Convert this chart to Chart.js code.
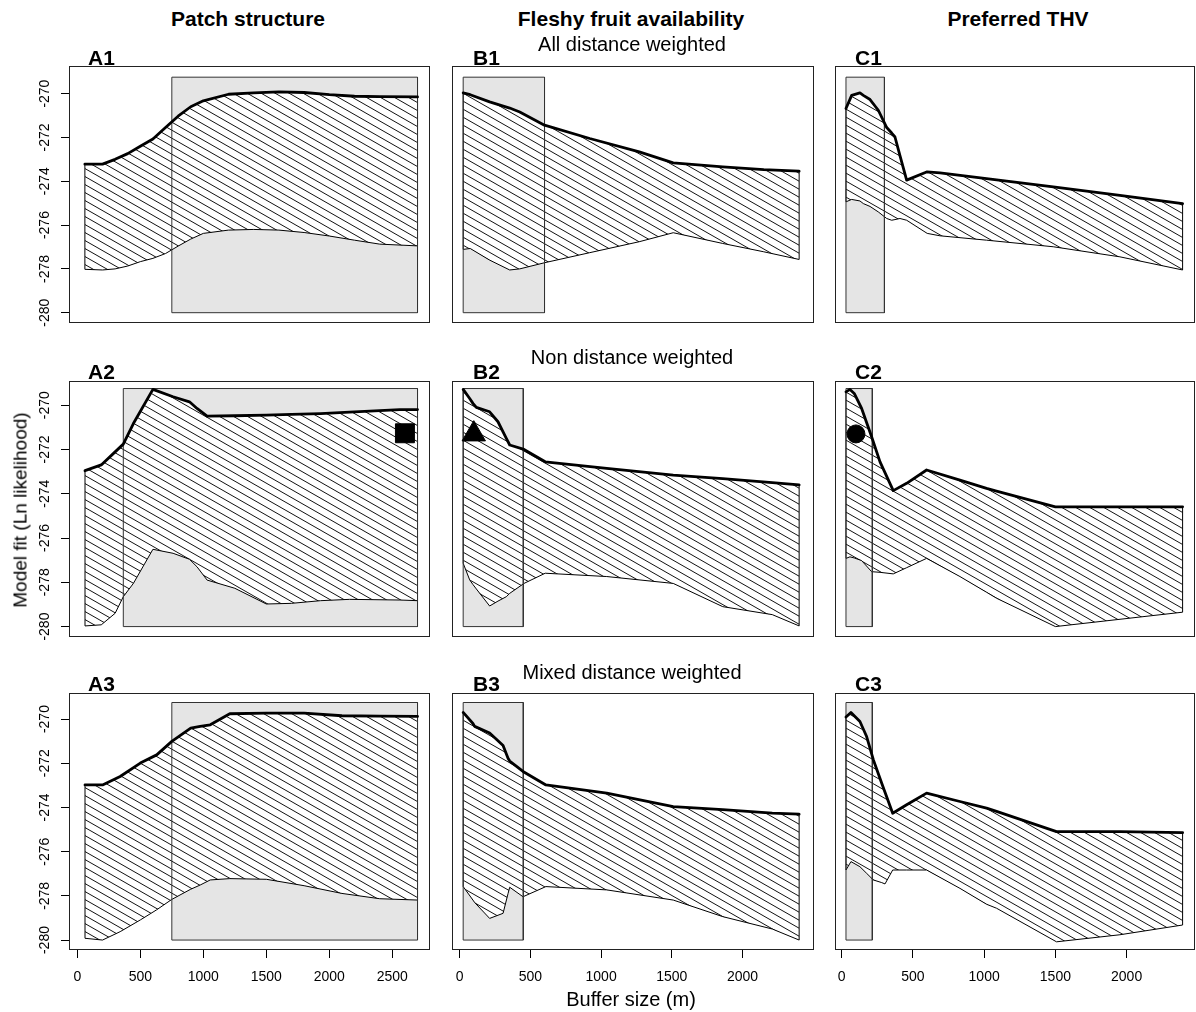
<!DOCTYPE html>
<html><head><meta charset="utf-8">
<script src="https://cdn.jsdelivr.net/npm/chart.js@4.4.1/dist/chart.umd.min.js"></script>
<style>
html,body{margin:0;padding:0;background:#fff;}
body{width:1196px;height:1012px;position:relative;overflow:hidden;font-family:"Liberation Sans",Arial,sans-serif;color:#000;}
canvas{position:absolute;}
.t{position:absolute;transform:translate(-50%,-50%);white-space:nowrap;line-height:1;}
.ct{font-weight:bold;font-size:21px;}
.st{font-size:20px;}
.pl{position:absolute;transform:translateY(-50%);font-weight:bold;font-size:21px;line-height:1;white-space:nowrap;}
.yt{position:absolute;transform:translate(-50%,-50%) rotate(-90deg);font-size:19px;line-height:1;white-space:nowrap;}
</style></head><body>
<script>
// ---------------- DATA ----------------
const xTicksA = [0, 500, 1000, 1500, 2000, 2500];
const xTicksBC = [0, 500, 1000, 1500, 2000];
const yTicks = [-280, -278, -276, -274, -272, -270];
const shadeY = [-280, -269.25];

const A1_x = [60,200,300,400,500,600,700,800,900,1000,1200,1400,1600,1800,2000,2200,2400,2700];
const A1_upper = [-273.22,-273.22,-273.0,-272.74,-272.4,-272.07,-271.55,-271.03,-270.6,-270.33,-270.03,-269.97,-269.92,-269.95,-270.05,-270.12,-270.14,-270.15];
const A1_lower = [-278.02,-278.05,-278.0,-277.87,-277.67,-277.52,-277.3,-276.96,-276.64,-276.38,-276.23,-276.2,-276.23,-276.34,-276.5,-276.69,-276.87,-276.95];
const A1_shade = [750, 2700];

const A2_x = [61,190,300,365,445,600,760,890,950,1030,1250,1500,1700,1930,2160,2560,2700];
const A2_upper = [-272.96,-272.7,-272.11,-271.76,-270.83,-269.29,-269.62,-269.85,-270.15,-270.5,-270.48,-270.45,-270.42,-270.38,-270.32,-270.2,-270.2];
const A2_lower = [-279.97,-279.92,-279.4,-278.65,-278.05,-276.51,-276.69,-276.96,-277.3,-277.9,-278.27,-278.98,-278.95,-278.83,-278.77,-278.8,-278.83];
const A2_shade = [365, 2700];
const A2_marker = [2600, -271.27];

const A3_x = [61,200,340,500,630,750,900,975,1055,1210,1500,1800,2100,2400,2700];
const A3_upper = [-272.98,-272.98,-272.6,-271.99,-271.62,-271.01,-270.41,-270.33,-270.26,-269.76,-269.73,-269.73,-269.85,-269.87,-269.88];
const A3_lower = [-279.92,-280.0,-279.62,-279.09,-278.63,-278.16,-277.7,-277.51,-277.28,-277.22,-277.25,-277.54,-277.89,-278.13,-278.19];
const A3_shade = [750, 2700];

const B1_x = [25,75,212,354,425,600,920,1270,1510,1860,2150,2400];
const B1_upper = [-269.97,-270.05,-270.38,-270.66,-270.84,-271.44,-272.05,-272.66,-273.16,-273.34,-273.47,-273.54];
const B1_lower = [-277.11,-277.07,-277.6,-278.05,-278.0,-277.72,-277.26,-276.76,-276.35,-276.84,-277.22,-277.57];
const B1_shade = [25, 600];

const B2_x = [25,71,94,118,212,271,330,354,455,605,1040,1510,1860,2210,2400];
const B2_upper = [-269.29,-269.7,-269.92,-270.1,-270.3,-270.75,-271.5,-271.8,-272.0,-272.56,-272.86,-273.16,-273.32,-273.5,-273.6];
const B2_lower = [-277.14,-277.89,-278.1,-278.3,-279.07,-278.85,-278.65,-278.5,-278.05,-277.59,-277.74,-278.05,-279.1,-279.46,-279.97];
const B2_shade = [25, 450];
const B2_marker = [100, -271.31];

const B3_x = [25,94,106,212,307,342,354,448,610,1040,1510,1860,2210,2400];
const B3_upper = [-269.7,-270.2,-270.33,-270.63,-271.2,-271.77,-271.9,-272.37,-272.98,-273.35,-273.96,-274.1,-274.26,-274.3];
const B3_lower = [-277.58,-278.19,-278.3,-279.02,-278.79,-277.9,-277.61,-278.04,-277.58,-277.73,-278.19,-278.94,-279.5,-280.0];
const B3_shade = [25, 450];

const C1_x = [30,70,128,152,199,257,316,351,374,409,456,600,690,1017,1485,1953,2393];
const C1_upper = [-270.68,-270.08,-269.97,-270.08,-270.27,-270.76,-271.55,-271.8,-271.98,-272.83,-273.95,-273.57,-273.62,-273.88,-274.26,-274.64,-275.02];
const C1_lower = [-274.94,-274.83,-274.9,-275.02,-275.15,-275.4,-275.7,-275.78,-275.75,-275.7,-275.78,-276.38,-276.49,-276.69,-276.99,-277.45,-278.05];
const C1_shade = [30, 300];

const C2_x = [30,58,88,140,210,269,362,456,596,830,1017,1087,1500,2393];
const C2_upper = [-269.4,-269.29,-269.47,-270.15,-271.43,-272.56,-273.86,-273.53,-272.93,-273.39,-273.76,-273.88,-274.59,-274.59];
const C2_lower = [-276.92,-276.85,-276.9,-277.02,-277.52,-277.55,-277.62,-277.34,-276.92,-277.74,-278.45,-278.72,-280.0,-279.35];
const C2_shade = [30, 215];
const C2_marker = [100, -271.3];

const C3_x = [30,65,128,175,222,281,304,358,456,596,830,1017,1087,1508,1953,2393];
const C3_upper = [-269.91,-269.7,-270.11,-270.79,-271.84,-272.9,-273.31,-274.26,-273.88,-273.35,-273.73,-274.03,-274.18,-275.09,-275.09,-275.14];
const C3_lower = [-276.83,-276.45,-276.68,-276.98,-277.28,-277.4,-277.46,-276.83,-276.83,-276.83,-277.66,-278.38,-278.56,-280.08,-279.76,-279.32];
const C3_shade = [30, 215];

// ---------------- LAYOUT ----------------
const COLS = [
  {boxL:69,  boxR:430,  xMin:-66, xMax:2799, padR:8, ticks:xTicksA},
  {boxL:452, boxR:814,  xMin:-54, xMax:2505, padR:8, ticks:xTicksBC},
  {boxL:835, boxR:1195, xMin:-47, xMax:2480, padR:1, ticks:xTicksBC}
];
const ROWS = [
  {boxT:66,  boxB:323, yMin:-280.47, yMax:-268.74},
  {boxT:381, boxB:637, yMin:-280.47, yMax:-268.91},
  {boxT:693, boxB:950, yMin:-280.45, yMax:-268.82}
];
const panels = [
  {x:A1_x, up:A1_upper, lo:A1_lower, shade:A1_shade, col:0, row:0},
  {x:A2_x, up:A2_upper, lo:A2_lower, shade:A2_shade, col:0, row:1, marker:A2_marker, mStyle:'rect', mR:13.4},
  {x:A3_x, up:A3_upper, lo:A3_lower, shade:A3_shade, col:0, row:2},
  {x:B1_x, up:B1_upper, lo:B1_lower, shade:B1_shade, col:1, row:0},
  {x:B2_x, up:B2_upper, lo:B2_lower, shade:B2_shade, col:1, row:1, marker:B2_marker, mStyle:'triangle', mR:13.5},
  {x:B3_x, up:B3_upper, lo:B3_lower, shade:B3_shade, col:1, row:2},
  {x:C1_x, up:C1_upper, lo:C1_lower, shade:C1_shade, col:2, row:0},
  {x:C2_x, up:C2_upper, lo:C2_lower, shade:C2_shade, col:2, row:1, marker:C2_marker, mStyle:'circle', mR:9},
  {x:C3_x, up:C3_upper, lo:C3_lower, shade:C3_shade, col:2, row:2}
];

const FONT = "'Liberation Sans', Arial, sans-serif";
const PAD_T = 18;

const boxPlugin = {
  id: 'box',
  afterDraw(chart) {
    const a = chart.chartArea, c = chart.ctx;
    c.save();
    c.strokeStyle = '#222';
    c.lineWidth = 1;
    c.strokeRect(Math.round(a.left) + 0.5, Math.round(a.top) + 0.5,
                 Math.round(a.right - a.left) - 1, Math.round(a.bottom - a.top) - 1);
    c.restore();
  }
};

function hatchTile() {
  const W = 14, H = 8;
  const c = document.createElement('canvas');
  c.width = W; c.height = H;
  const g = c.getContext('2d');
  g.fillStyle = '#fff'; g.fillRect(0, 0, W, H);
  g.strokeStyle = '#111'; g.lineWidth = 1;
  for (let k = -1; k <= 1; k++) {
    g.beginPath();
    g.moveTo(-W, -H + k * H);
    g.lineTo(2 * W, 2 * H + k * H);
    g.stroke();
  }
  return c;
}
const TILE = hatchTile();

function build(p) {
  const C = COLS[p.col], R = ROWS[p.row];
  const isA = p.col === 0, isBottom = p.row === 2;
  const yW = isA ? 69 : 0;
  const padL = isA ? 0 : 12;
  const left = C.boxL - yW - padL;
  const width = C.boxR + C.padR - left;
  const top = R.boxT - PAD_T;
  const bottomSpace = isBottom ? 40 : 18;
  const height = R.boxB + bottomSpace - top;

  const cv = document.createElement('canvas');
  cv.width = width; cv.height = height;
  cv.style.left = left + 'px'; cv.style.top = top + 'px';
  cv.style.width = width + 'px'; cv.style.height = height + 'px';
  document.body.appendChild(cv);
  const pattern = cv.getContext('2d').createPattern(TILE, 'repeat');

  const n = p.x.length;
  const up = p.x.map((x, i) => ({x, y: p.up[i]}));
  const lo = p.x.map((x, i) => ({x, y: p.lo[i]}));
  const s0 = p.shade[0], s1 = p.shade[1], yb = shadeY[0], yt = shadeY[1];

  const ds = [];
  if (p.marker) {
    ds.push({data:[{x:p.marker[0], y:p.marker[1]}], showLine:false, pointStyle:p.mStyle,
             pointRadius:p.mR, pointBackgroundColor:'#000', pointBorderColor:'#000', pointBorderWidth:1, fill:false});
  }
  ds.push({data:up, borderColor:'#000', borderWidth:2.8, borderJoinStyle:'round', borderCapStyle:'round', fill:false});
  ds.push({data:[{x:s0,y:yb},{x:s0,y:yt},{x:s1,y:yt},{x:s1,y:yb},{x:s0,y:yb}], borderColor:'#333', borderWidth:1, fill:false});
  ds.push({data:[{x:p.x[0], y:p.lo[0]},{x:p.x[0], y:p.up[0]}], borderColor:'#000', borderWidth:1, fill:false});
  ds.push({data:[{x:p.x[n-1], y:p.lo[n-1]},{x:p.x[n-1], y:p.up[n-1]}], borderColor:'#000', borderWidth:1, fill:false});
  const loIdx = ds.length;
  ds.push({data:lo, borderColor:'#000', borderWidth:1, fill:false});
  ds.push({data:up, borderWidth:0, borderColor:'rgba(0,0,0,0)', backgroundColor:pattern, fill:loIdx});
  ds.push({data:[{x:s0,y:yt},{x:s1,y:yt}], borderWidth:0, borderColor:'rgba(0,0,0,0)', backgroundColor:'#e5e5e5', fill:{value:yb}});

  const tickFont = {family: FONT, size: 14};
  const xScale = {
    type: 'linear', min: C.xMin, max: C.xMax, display: isBottom, position: 'bottom',
    afterBuildTicks: s => { s.ticks = C.ticks.map(v => ({value: v})); },
    grid: {display: true, drawOnChartArea: false, drawTicks: true, tickLength: 8, color: '#000', lineWidth: 1},
    border: {display: false},
    ticks: {font: tickFont, color: '#000', padding: 11, maxRotation: 0, minRotation: 0, autoSkip: false,
            includeBounds: false, callback: v => String(v)}
  };
  if (isBottom) xScale.afterFit = s => { s.height = 40; };
  const yScale = {
    type: 'linear', min: R.yMin, max: R.yMax, display: isA, position: 'left',
    afterBuildTicks: s => { s.ticks = yTicks.map(v => ({value: v})); },
    grid: {display: true, drawOnChartArea: false, drawTicks: true, tickLength: 8, color: '#000', lineWidth: 1},
    border: {display: false},
    ticks: {font: tickFont, color: '#000', padding: 2, minRotation: 90, maxRotation: 90, crossAlign: 'center',
            autoSkip: false, includeBounds: false, callback: v => String(v)}
  };
  if (isA) yScale.afterFit = s => { s.width = 69; };

  new Chart(cv, {
    type: 'line',
    data: {datasets: ds},
    options: {
      responsive: false, animation: false, events: [], devicePixelRatio: 1,
      layout: {autoPadding: false, padding: {left: padL, right: C.padR, top: PAD_T, bottom: isBottom ? 0 : 18}},
      elements: {point: {radius: 0, hoverRadius: 0}, line: {tension: 0}},
      plugins: {legend: {display: false}, tooltip: {enabled: false}},
      scales: {x: xScale, y: yScale}
    },
    plugins: [boxPlugin]
  });
}
panels.forEach(build);

// ---------------- TEXT ----------------
function addText(cls, txt, x, y) {
  const d = document.createElement('div');
  d.className = cls; d.textContent = txt;
  d.style.left = x + 'px'; d.style.top = y + 'px';
  document.body.appendChild(d);
}
addText('t ct', 'Patch structure', 248, 18);
addText('t ct', 'Fleshy fruit availability', 631, 18);
addText('t ct', 'Preferred THV', 1018, 18);
addText('t st', 'All distance weighted', 632, 44);
addText('t st', 'Non distance weighted', 632, 357);
addText('t st', 'Mixed distance weighted', 632, 672);
const labelX = [88, 473, 855];
const labelY = [57, 371, 683];
['A','B','C'].forEach((c, ci) => [1,2,3].forEach((r, ri) => addText('pl', c + r, labelX[ci], labelY[ri])));
addText('yt', 'Model fit (Ln likelihood)', 20, 510);
addText('t st', 'Buffer size (m)', 631, 999);
</script>
</body></html>
